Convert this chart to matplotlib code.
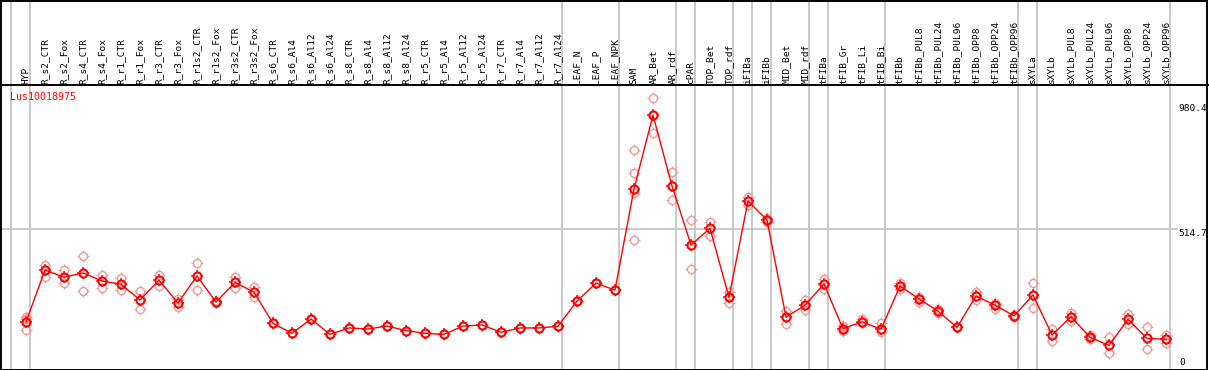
import matplotlib
matplotlib.use("Agg")
import matplotlib.pyplot as plt
from matplotlib.path import Path
from matplotlib.patches import Rectangle
import matplotlib.transforms as mtransforms

# sample names (columns)
labels = ['HYP',
          'R_s2_CTR', 'R_s2_Fox', 'R_s4_CTR', 'R_s4_Fox', 'R_r1_CTR', 'R_r1_Fox',
          'R_r3_CTR', 'R_r3_Fox', 'R_r1s2_CTR', 'R_r1s2_Fox', 'R_r3s2_CTR', 'R_r3s2_Fox',
          'R_s6_CTR', 'R_s6_Al4', 'R_s6_Al12', 'R_s6_Al24', 'R_s8_CTR', 'R_s8_Al4',
          'R_s8_Al12', 'R_s8_Al24', 'R_r5_CTR', 'R_r5_Al4', 'R_r5_Al12', 'R_r5_Al24',
          'R_r7_CTR', 'R_r7_Al4', 'R_r7_Al12', 'R_r7_Al24',
          'LEAF_N', 'LEAF_P', 'LEAF_NPK', 'SAM', 'AR_Bet', 'AR_rdf', 'cPAR',
          'TOP_Bet', 'TOP_rdf', 'iFIBa', 'iFIBb', 'MID_Bet', 'MID_rdf', 'tFIBa',
          'tFIB_Gr', 'tFIB_Li', 'tFIB_Bi', 'tFIBb', 'tFIBb_PUL8', 'tFIBb_PUL24',
          'tFIBb_PUL96', 'tFIBb_OPP8', 'tFIBb_OPP24', 'tFIBb_OPP96', 'sXYLa', 'sXYLb',
          'sXYLb_PUL8', 'sXYLb_PUL24', 'sXYLb_PUL96', 'sXYLb_OPP8', 'sXYLb_OPP24',
          'sXYLb_OPP96']

# mean expression per sample
means = [169, 363, 336, 352, 322, 310, 251, 325, 240, 341, 243, 317, 280,
         164, 127, 180, 123, 147, 143, 154, 137, 127, 123, 154, 158, 131, 147, 147, 153,
         247, 314, 288, 665, 940, 676, 456, 518, 261, 620, 549, 187, 232, 311,
         144, 170, 142, 303, 255, 210, 149, 266, 232, 192, 270, 121,
         189, 112, 82, 179, 108, 105]

# replicate values per sample
reps = [[189, 180, 139], [382, 338], [363, 313], [415, 285], [344, 297], [332, 288],
        [285, 218], [344, 303], [254, 226], [388, 288], [246, 240], [338, 297], [298, 263],
        [164, 164], [127, 127], [180, 180], [123, 123], [147, 147], [143, 143],
        [154, 154], [137, 137], [127, 127], [123, 123], [154, 154], [158, 158],
        [131, 131], [147, 147], [147, 147], [153, 153],
        [247, 247], [314, 314], [288, 288],
        [810, 723, 649, 475], [1003, 872], [727, 623], [549, 367], [543, 491],
        [282, 241], [636, 605], [556, 543], [210, 161], [251, 214], [329, 291],
        [155, 137], [179, 164], [164, 131], [313, 291], [263, 245], [216, 202],
        [149, 149], [282, 251], [241, 218], [195, 189], [316, 220], [142, 99],
        [204, 174], [121, 106], [114, 53], [198, 161], [149, 67], [121, 92]]

# last column index of each sample group
group_ends = [-1, 0, 28, 31, 34, 35, 37, 38, 39, 41, 42, 45, 52, 53, 60]

gene = 'Lus10018975'
y_marks = [980.4, 514.7]

W, H = 1209, 370
fig = plt.figure(figsize=(W / 100, H / 100), dpi=100)
top_px = 85
ax = fig.add_axes([0, 0, 1, (H - top_px) / H])
ax.set_xlim(-26 / 19, (W - 26) / 19)
ax.set_ylim(-9.7, 1052.2)
ax.set_xticks([])
ax.set_yticks([])
for s in ['left', 'right', 'bottom']:
    ax.spines[s].set_visible(False)
ax.spines['top'].set_linewidth(1.4)

grid_c = '#c0c0c0'
ax.axhline(y_marks[1], xmin=0, xmax=1177 / W, color=grid_c, lw=1.2, zorder=1)
for g in group_ends:
    ax.axvline(g + 0.23, ymin=0, ymax=H / (H - top_px), color=grid_c, lw=1.2,
               clip_on=False, zorder=1)

# little ticks around each circle
tk = Path([(0, 1), (0, 1.45), (0, -1), (0, -1.45), (1, 0), (1.45, 0), (-1, 0), (-1.45, 0)],
          [Path.MOVETO, Path.LINETO] * 4)
tick_ms = 8.4
circ_ms = tick_ms / 1.45

xs = list(range(len(labels)))
for i, r in enumerate(reps):
    ax.plot([i] * len(r), r, linestyle='none', marker='o', ms=circ_ms, mfc='none',
            mec='#ee9a9a', mew=1.0, zorder=2)
    ax.plot([i] * len(r), r, linestyle='none', marker=tk, ms=tick_ms,
            mec='#ee9a9a', mew=0.9, zorder=2)
ax.plot(xs, means, color='#ff0000', lw=1.0, zorder=3)
ax.plot(xs, means, linestyle='none', marker='o', ms=circ_ms, mfc='none',
        mec='#ff0000', mew=1.5, zorder=4)
ax.plot(xs, means, linestyle='none', marker=tk, ms=tick_ms,
        mec='#ff0000', mew=1.1, zorder=4)

trans = mtransforms.blended_transform_factory(ax.transData, ax.transAxes)
for i, lab in enumerate(labels):
    ax.text(i, 1.004, lab, transform=trans, rotation=90, ha='center', va='bottom',
            fontsize=6.8, family='DejaVu Sans Mono', clip_on=False)

tr2 = mtransforms.blended_transform_factory(ax.transAxes, ax.transData)
for v in y_marks:
    ax.text(1178 / W, v, f'{v}', transform=tr2, ha='left', va='top',
            fontsize=6.8, family='DejaVu Sans Mono')
ax.text(1179 / W, 0.012, '0', transform=ax.transAxes, ha='left', va='bottom',
        fontsize=6.8, family='DejaVu Sans Mono')

fig.text(10 / W, 1 - 97 / H, gene, color='#ff0000', ha='left', va='center',
         fontsize=7.1, family='DejaVu Sans Mono')

fig.add_artist(Rectangle((0.5 / W, 0.5 / H), (W - 2.5) / W, (H - 1.5) / H,
                         transform=fig.transFigure, fill=False, ec='black', lw=1.4))

fig.savefig('out.png', dpi=100)
